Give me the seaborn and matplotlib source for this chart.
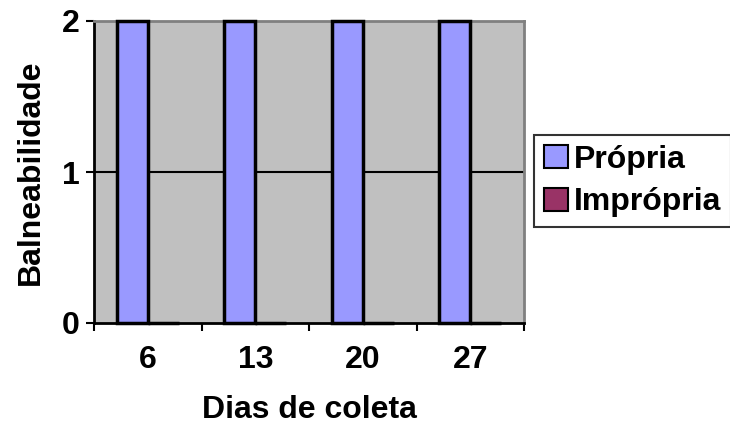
import matplotlib
matplotlib.use("Agg")
import matplotlib.pyplot as plt
import seaborn as sns
import pandas as pd
from matplotlib.patches import Patch

days = ["6", "13", "20", "27"]
propria = [2, 2, 2, 2]
impropria = [0, 0, 0, 0]
series_names = ["Própria", "Imprópria"]
colors = ["#9999FF", "#993366"]
yticks = [0, 1, 2]

sns.set_theme(style="white")
plt.rcParams['font.family'] = ['Liberation Sans', 'DejaVu Sans']
plt.rcParams['font.weight'] = 'bold'
for k in ['text.color', 'axes.labelcolor', 'xtick.color', 'ytick.color']:
    plt.rcParams[k] = 'black'

FS = 23

df = pd.DataFrame({
    "dia": days * 2,
    "valor": propria + impropria,
    "serie": [series_names[0]] * len(days) + [series_names[1]] * len(days),
})

fig = plt.figure(figsize=(7.3, 4.32), dpi=100)
ax = fig.add_axes([94/730, 1 - 323/432, (524-94)/730, (323-21)/432])
ax.set_facecolor("#C0C0C0")

sns.barplot(data=df, x="dia", y="valor", hue="serie", palette=colors,
            saturation=1, width=0.58, edgecolor="black", linewidth=2.5,
            ax=ax, legend=False, zorder=3)
for p in ax.patches:
    p.set_clip_on(False)

ax.set_ylim(0, 2)
ax.set_xlim(-0.5, len(days) - 0.5)
ax.set_yticks(yticks)
ax.set_yticklabels([str(t) for t in yticks], fontsize=FS, fontweight='bold')
ax.set_xticks(range(len(days)))
ax.set_xticklabels(days, fontsize=FS, fontweight='bold')
ax.tick_params(axis='x', which='major', bottom=True, length=0, pad=16)
ax.set_xticks([i - 0.5 for i in range(len(days) + 1)], minor=True)
ax.tick_params(axis='x', which='minor', bottom=True, length=6, width=1.5,
               color='black', direction='out')
ax.tick_params(axis='y', which='major', left=True, length=6, width=1.5,
               color='black', direction='out', pad=4)

ax.axhline(1, color='black', linewidth=1.5, zorder=1)

for s in ['left', 'bottom']:
    ax.spines[s].set_color('black')
    ax.spines[s].set_linewidth(2)
for s in ['top', 'right']:
    ax.spines[s].set_color('#808080')
    ax.spines[s].set_linewidth(2)

ax.set_xlabel("Dias de coleta", fontsize=FS, fontweight='bold', labelpad=14)
ax.set_ylabel("Balneabilidade", fontsize=FS, fontweight='bold', labelpad=12)

handles = [Patch(facecolor=c, edgecolor='black', linewidth=1.5) for c in colors]
leg = fig.legend(handles, series_names, loc='center left',
                 bbox_to_anchor=(534/730, 1 - 181/432),
                 prop={'size': FS, 'weight': 'bold'}, frameon=True,
                 fancybox=False, edgecolor='black', handlelength=0.75,
                 handleheight=0.75, handletextpad=0.2, borderpad=0.3,
                 labelspacing=0.4, borderaxespad=0)
leg.get_frame().set_linewidth(1.5)

fig.savefig("out.png", dpi=100)
